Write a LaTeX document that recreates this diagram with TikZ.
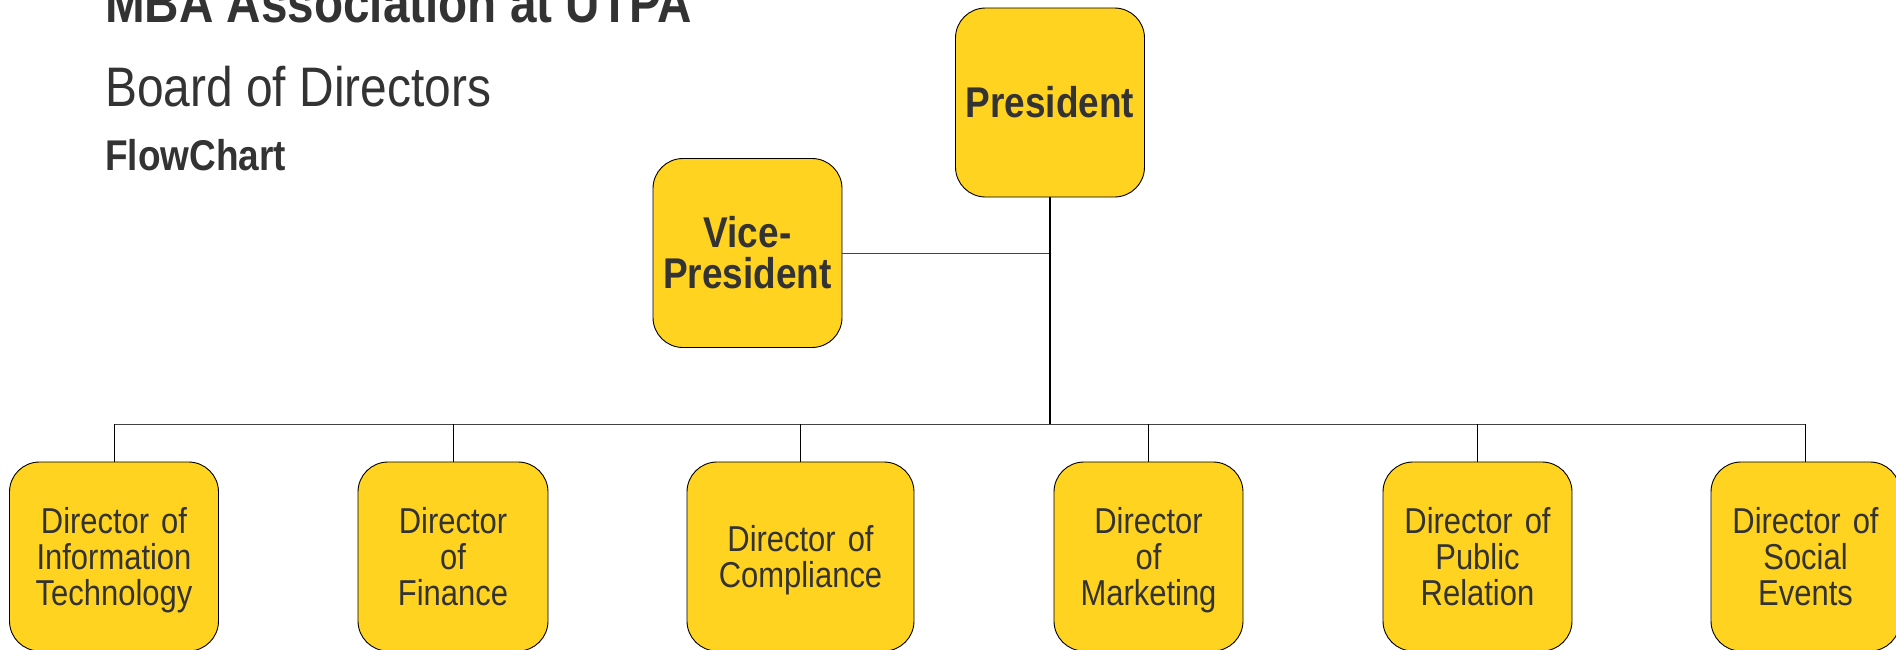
\documentclass[tikz,border=0pt]{standalone}
\usepackage{fontspec}
\setmainfont{Liberation Sans}
\newfontfamily\nfont[FakeStretch=0.86]{Liberation Sans}
\definecolor{boxyellow}{HTML}{FFD320}
\definecolor{txtgray}{HTML}{333333}
\definecolor{linegray}{HTML}{444444}
\newcommand{\topstr}{\rule{0pt}{34pt}}
\newcommand{\botstr}{\rule[-7.6pt]{0pt}{7.6pt}}
\begin{document}
\begin{tikzpicture}[x=1pt,y=-1pt,
  orgbox/.style={draw=black, line width=0.9pt, fill=boxyellow, rounded corners=30pt,
    inner sep=0pt, align=center, text=txtgray, minimum height=189pt},
  topfont/.style={font=\nfont\bfseries\fontsize{43}{41}\selectfont},
  lowfont/.style={font=\nfont\fontsize{36}{36}\selectfont},
  conn/.style={draw=linegray, line width=1pt},
  mainconn/.style={draw=black, line width=2pt}
]
\useasboundingbox (0,0) rectangle (1896,649);
% titles
\node[anchor=base west, inner sep=0pt, text=txtgray, font=\nfont\bfseries\fontsize{55.4}{55}\selectfont] (t1) at (105,22) {MBA Association at UTPA};
\node[anchor=base west, inner sep=0pt, text=txtgray, font=\nfont\fontsize{55.7}{56}\selectfont] (t2) at (105,106) {Board of Directors};
\node[anchor=base west, inner sep=0pt, text=txtgray, font=\nfont\bfseries\fontsize{43}{43}\selectfont] (t3) at (105,170) {FlowChart};
% top boxes
\node[orgbox, topfont, minimum width=189pt, text width=189pt] (pres) at (1050,102.5) {President};
\node[orgbox, topfont, minimum width=189pt, text width=189pt] (vp) at (747.5,253) {Vice-\\President};
% bottom boxes
\node[orgbox, lowfont, minimum width=209pt, text width=200pt] (it) at (114,556.5) {\topstr Director of\\Information\\Technology\botstr};
\node[orgbox, lowfont, minimum width=190pt, text width=185pt] (fin) at (453,556.5) {\topstr Director\\of\\Finance\botstr};
\node[orgbox, lowfont, minimum width=227pt, text width=220pt] (comp) at (800.5,556.5) {\topstr Director of\\Compliance\botstr};
\node[orgbox, lowfont, minimum width=189pt, text width=185pt] (mkt) at (1148.5,556.5) {\topstr Director\\of\\Marketing\botstr};
\node[orgbox, lowfont, minimum width=189pt, text width=185pt] (pr) at (1477.5,556.5) {\topstr Director of\\Public\\Relation\botstr};
\node[orgbox, lowfont, minimum width=189pt, text width=185pt] (soc) at (1805.5,556.5) {\topstr Director of\\Social\\Events\botstr};
% connectors
\coordinate (busc) at (1050,424);
\draw[conn] (vp.east) -- (vp.east -| pres.south);
\draw[conn] (it.north |- busc) -- (soc.north |- busc);
\foreach \b in {it,fin,comp,mkt,pr,soc} {
  \draw[draw=black, line width=0.9pt] (\b.north) -- (\b.north |- busc);
}
\draw[mainconn] (pres.south) -- (busc);
\end{tikzpicture}
\end{document}
